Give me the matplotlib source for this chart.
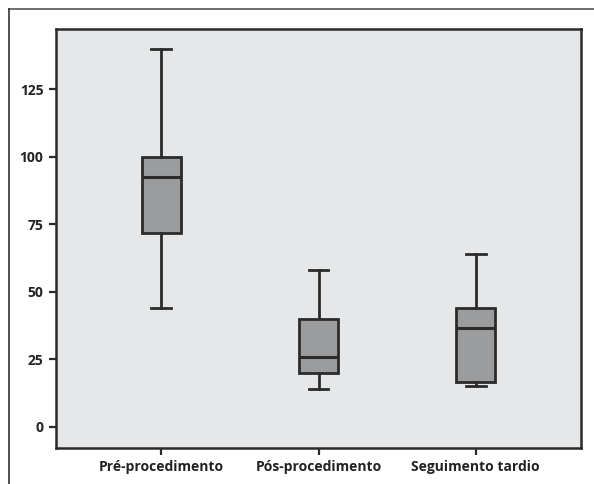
import matplotlib.pyplot as plt
from matplotlib.lines import Line2D

# box statistics
groups = ["Pré-procedimento", "Pós-procedimento", "Seguimento tardio"]
whisker_low = [44, 14, 15]
q1 = [72, 20, 16.5]
median = [92.5, 26, 36.5]
q3 = [100, 40, 44]
whisker_high = [140, 58, 64]
yticks = [0, 25, 50, 75, 100, 125]

stats = []
for i, name in enumerate(groups):
    stats.append({"label": name, "whislo": whisker_low[i], "q1": q1[i],
                  "med": median[i], "q3": q3[i], "whishi": whisker_high[i],
                  "fliers": []})

W, H = 594, 484
fig = plt.figure(figsize=(W / 100, H / 100), dpi=100)
fig.patch.set_facecolor("white")
ax = fig.add_axes([56 / W, 1 - 448 / H, (581 - 56) / W, (448 - 29) / H])
ax.set_facecolor("#e6e7e9")

dark = "#2b2b2b"
ax.bxp(stats, positions=[1, 2, 3], widths=0.25, patch_artist=True,
       boxprops=dict(facecolor="#9b9c9e", edgecolor=dark, linewidth=2),
       medianprops=dict(color=dark, linewidth=2.2),
       whiskerprops=dict(color=dark, linewidth=2),
       capprops=dict(color=dark, linewidth=2),
       capwidths=0.125, showfliers=False)

ax.set_xlim(0.33, 3.67)
ax.set_ylim(-7.8, 147.4)
ax.set_yticks(yticks)
ax.set_xticks([1, 2, 3])
ax.set_xticklabels(groups)

for s in ax.spines.values():
    s.set_color(dark)
    s.set_linewidth(1.8)
ax.tick_params(axis="both", direction="out", length=5, width=1.6, color=dark,
               labelsize=10, labelcolor="#222222", pad=4)
for lab in ax.get_xticklabels() + ax.get_yticklabels():
    lab.set_fontweight("bold")
    lab.set_family("Open Sans")

# outer frame lines (top and left)
fig.add_artist(Line2D([9 / W, 1], [1 - 9 / H, 1 - 9 / H], color="#555555", lw=1.2))
fig.add_artist(Line2D([9 / W, 9 / W], [0, 1 - 9 / H], color="#333333", lw=1.2))

fig.savefig("out.png", dpi=100)
